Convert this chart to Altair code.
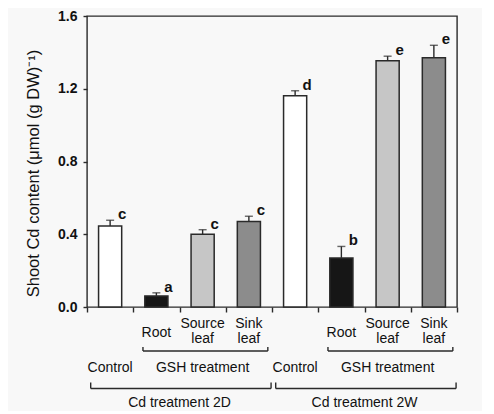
import altair as alt
import pandas as pd

categories = ["Control 2D", "Root 2D", "Source 2D", "Sink 2D",
              "Control 2W", "Root 2W", "Source 2W", "Sink 2W"]
values = [0.445, 0.061, 0.400, 0.470, 1.162, 0.270, 1.354, 1.370]
errors = [0.032, 0.017, 0.025, 0.029, 0.027, 0.063, 0.025, 0.069]
letters = ["c", "a", "c", "c", "d", "b", "e", "e"]
fills = ["#ffffff", "#161616", "#c6c6c6", "#8c8c8c",
         "#ffffff", "#161616", "#c6c6c6", "#8c8c8c"]
root_cats = ["Root 2D", "Root 2W"]
leaf_cats = ["Source 2D", "Sink 2D", "Source 2W", "Sink 2W"]
leaf_labels = ["Source\nleaf", "Sink\nleaf", "Source\nleaf", "Sink\nleaf"]
group_cats = ["Control 2D", "Source 2D", "Control 2W", "Source 2W"]
group_labels = ["Control", "GSH treatment", "Control", "GSH treatment"]
gsh_start = ["Root 2D", "Root 2W"]
gsh_end = ["Sink 2D", "Sink 2W"]
cd_start = ["Control 2D", "Control 2W"]
cd_end = ["Sink 2D", "Sink 2W"]
cd_cats = ["Source 2D", "Source 2W"]
cd_labels = ["Cd treatment 2D", "Cd treatment 2W"]
y_ticks = [0.0, 0.4, 0.8, 1.2, 1.6]

FONT = "Liberation Sans"
INK = "#2a2a2a"

df = pd.DataFrame({
    "cat": categories,
    "value": values,
    "top": [v + e for v, e in zip(values, errors)],
    "letter": letters,
    "fill": fills,
})
root_df = pd.DataFrame({"cat": root_cats, "label": ["Root"] * len(root_cats)})
leaf_df = pd.DataFrame({"cat": leaf_cats, "label": leaf_labels})
group_df = pd.DataFrame({"cat": group_cats, "label": group_labels})
gsh_df = pd.DataFrame({"start": gsh_start, "end": gsh_end})
cd_df = pd.DataFrame({"start": cd_start, "end": cd_end})
cdl_df = pd.DataFrame({"cat": cd_cats, "label": cd_labels})

xscale = alt.Scale(domain=categories, paddingInner=0, paddingOuter=0)
yscale = alt.Scale(domain=[0, 1.6], nice=False)

x_main = alt.X("cat:N", scale=xscale,
               axis=alt.Axis(labels=False, title=None, tickBand="extent",
                             tickSize=5, domain=False))
y_title = "Shoot Cd content (\u03bcmol (g DW)\u207b\u00b9)"

bars = alt.Chart(df).mark_bar(
    stroke=INK, strokeWidth=1.5, width=alt.RelativeBandSize(0.5)
).encode(
    x=x_main,
    y=alt.Y("value:Q", scale=yscale,
            axis=alt.Axis(values=y_ticks, format=".1f", grid=False, domain=False,
                          tickSize=4, labelPadding=6, labelFontWeight="bold",
                          title=y_title, titleFontSize=16.5, titleFontWeight="normal",
                          titleFont=FONT, titleColor="#111", titlePadding=16,
                          titleY=157)),
    fill=alt.Fill("fill:N", scale=None),
)

err = alt.Chart(df).mark_rule(color=INK, strokeWidth=1.4).encode(
    x=alt.X("cat:N", scale=xscale),
    y=alt.Y("value:Q", scale=yscale),
    y2="top:Q",
)
caps = alt.Chart(df).mark_tick(color=INK, size=8, thickness=1.4).encode(
    x=alt.X("cat:N", scale=xscale),
    y=alt.Y("top:Q", scale=yscale),
)
letter_text = alt.Chart(df).mark_text(
    dx=12, dy=-1, baseline="alphabetic", fontSize=15, fontWeight="bold",
    font=FONT, color="#111"
).encode(
    x=alt.X("cat:N", scale=xscale),
    y=alt.Y("top:Q", scale=yscale),
    text="letter:N",
)

root_text = alt.Chart(root_df).mark_text(
    baseline="middle", fontSize=14, font=FONT, color="#111"
).encode(
    x=alt.X("cat:N", scale=xscale),
    y=alt.value(317),
    text="label:N",
)
leaf_text = alt.Chart(leaf_df).mark_text(
    baseline="middle", fontSize=14, font=FONT, lineBreak="\n", lineHeight=15,
    color="#111"
).encode(
    x=alt.X("cat:N", scale=xscale),
    y=alt.value(308),
    text="label:N",
)
group_text = alt.Chart(group_df).mark_text(
    baseline="middle", fontSize=14, font=FONT, color="#111"
).encode(
    x=alt.X("cat:N", scale=xscale),
    y=alt.value(352),
    text="label:N",
)
cd_text = alt.Chart(cdl_df).mark_text(
    baseline="middle", fontSize=14, font=FONT, color="#111"
).encode(
    x=alt.X("cat:N", scale=xscale, bandPosition=0),
    y=alt.value(387),
    text="label:N",
)

def bracket(data, b0, b1, yline, ytop):
    h = alt.Chart(data).mark_rule(color=INK, strokeWidth=1.4).encode(
        x=alt.X("start:N", scale=xscale, bandPosition=b0),
        x2=alt.X2("end:N", bandPosition=b1),
        y=alt.value(yline),
    )
    l = alt.Chart(data).mark_rule(color=INK, strokeWidth=1.4).encode(
        x=alt.X("start:N", scale=xscale, bandPosition=b0),
        y=alt.value(ytop), y2=alt.value(yline),
    )
    r = alt.Chart(data).mark_rule(color=INK, strokeWidth=1.4).encode(
        x=alt.X("end:N", scale=xscale, bandPosition=b1),
        y=alt.value(ytop), y2=alt.value(yline),
    )
    return [h, l, r]

layers = [bars, err, caps, letter_text, root_text, leaf_text, group_text, cd_text]
layers += bracket(gsh_df, 0.21, 0.91, 335, 331)
layers += bracket(cd_df, 0.08, 0.98, 372.5, 366.5)

chart = alt.layer(*layers).properties(
    width=370, height=291,
    padding={"left": 79, "top": 8, "right": 25, "bottom": 104},
    autosize=alt.AutoSizeParams(type="none"),
    background="#f8f8f8",
).configure_view(
    stroke=INK, strokeWidth=1.4
).configure_axis(
    labelFont=FONT, labelFontSize=14, labelColor="#111",
    tickColor=INK, tickWidth=1.4,
)

chart.save("out.html", embed_options={"renderer": "svg", "actions": False})
